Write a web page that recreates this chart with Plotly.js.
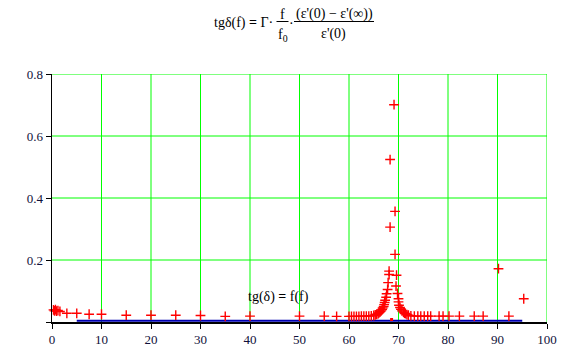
<!DOCTYPE html>
<html><head><meta charset="utf-8">
<script src="https://cdn.plot.ly/plotly-3.0.1.min.js"></script>
<style>html,body{margin:0;padding:0;background:#fff;}#chart{width:579px;height:349px;}</style>
</head><body><div id="chart"></div>
<script>
// Frequency values f and loss tangent tg(delta)
const freq = [0.3, 0.5, 0.7, 0.9, 1.2, 1.6, 3.0, 5.0, 7.5, 10, 15, 20, 25, 30, 35, 40, 50, 55, 57.5,
  60, 60.5, 61, 61.5, 62, 62.5, 63, 63.5, 64, 64.5, 65, 65.3, 65.6, 65.9, 66.1, 66.3, 66.5, 66.7, 66.8,
  67.0, 67.1, 67.2, 67.3, 67.5, 67.6, 67.8, 67.9, 68.1, 68.1, 68.3, 68.3, 69.1, 69.3, 69.3, 69.6, 69.5,
  69.8, 70.0, 70.0, 70.1, 70.3, 70.5, 70.7, 71.0, 71.2, 71.4, 71.7, 72.0, 72.5, 73.2, 73.9, 74.5, 75.2,
  75.9, 76.5, 78.2, 79.0, 80.2, 82.3, 85.3, 87.1, 90.2, 92.3, 95.3];
const tgd = [0.039, 0.036, 0.040, 0.035, 0.037, 0.034, 0.028, 0.028, 0.025, 0.025, 0.022, 0.022, 0.022, 0.021, 0.018, 0.019, 0.019, 0.019, 0.018,
  0.018, 0.018, 0.018, 0.018, 0.018, 0.019, 0.019, 0.019, 0.019, 0.020, 0.021, 0.023, 0.025, 0.027, 0.030, 0.033, 0.036, 0.040, 0.045,
  0.050, 0.056, 0.063, 0.070, 0.080, 0.091, 0.105, 0.127, 0.153, 0.164, 0.306, 0.524, 0.701, 0.357, 0.218, 0.151, 0.116,
  0.092, 0.075, 0.065, 0.054, 0.047, 0.041, 0.036, 0.032, 0.029, 0.027, 0.024, 0.022, 0.020, 0.019, 0.019, 0.019, 0.019,
  0.019, 0.019, 0.019, 0.019, 0.019, 0.019, 0.019, 0.019, 0.172, 0.019, 0.075];
// second trace: flat line along the f axis
const lineF = [5, 95];
const lineY = [0.004, 0.004];
const markF = [68.6];
const markY = [0.008];

const xTicks = [0, 10, 20, 30, 40, 50, 60, 70, 80, 90, 100];
const yTicks = [0, 0.2, 0.4, 0.6, 0.8];
const yTickText = [' ', '0.2', '0.4', '0.6', '0.8'];

const serif = 'Liberation Serif';
const ink = '#10103a';
const green = '#00ff00';

// pixel helpers for placing the formula (plot area: x 52..547, y 74..322)
const L = 52, R = 547, T = 74, B = 322;
const px = v => (v - L) / (R - L);
const py = v => (B - v) / (B - T);

const traces = [
  {x: lineF, y: lineY, mode: 'lines', line: {color: '#0000b0', width: 2}, hoverinfo: 'skip', cliponaxis: false},
  {x: freq, y: tgd, mode: 'markers', marker: {symbol: 'cross-thin-open', size: 7, color: 'red', line: {color: 'red', width: 1.4}}, cliponaxis: false},
  {x: markF, y: markY, mode: 'markers', marker: {symbol: 'square', size: 3, color: 'red'}}
];

// grid lines drawn as shapes at the tick positions
const gridShapes = [];
xTicks.filter(v => v > 0).forEach(v => gridShapes.push({type: 'line', layer: 'below', xref: 'x', yref: 'paper', x0: v, x1: v, y0: 0, y1: 1, line: {color: green, width: 1}}));
yTicks.filter(v => v > 0).forEach(v => gridShapes.push({type: 'line', layer: 'below', xref: 'paper', yref: 'y', x0: 0, x1: 1, y0: v, y1: v, line: {color: green, width: 1}}));

const tf = {family: serif, size: 14, color: '#000'};
const layout = {
  width: 579, height: 349,
  margin: {l: L, r: 579 - R, t: T, b: 349 - B},
  paper_bgcolor: '#fff', plot_bgcolor: '#fff',
  showlegend: false,
  font: {family: serif},
  xaxis: {range: [0, 100], tickvals: xTicks, ticks: 'outside', ticklen: 5, tickcolor: '#000',
    showline: true, linecolor: '#000', linewidth: 1.5, showgrid: false,
    zeroline: false, tickfont: {family: serif, size: 13, color: ink}},
  yaxis: {range: [0, 0.8], tickvals: yTicks, ticktext: yTickText, ticks: 'outside', ticklen: 5, tickcolor: '#000',
    showline: true, linecolor: '#000', linewidth: 1.5, showgrid: false,
    zeroline: false, tickfont: {family: serif, size: 13, color: ink}},
  annotations: [
    {xref: 'x', yref: 'y', x: 45.7, y: 0.08, text: 'tg(δ) <b>=</b> f(f)', showarrow: false, font: tf},
    {xref: 'paper', yref: 'paper', x: px(275), y: py(23), xanchor: 'right', yanchor: 'middle', text: 'tgδ(f) <b>=</b> Γ·', showarrow: false, font: tf},
    {xref: 'paper', yref: 'paper', x: px(282.5), y: py(14), xanchor: 'center', yanchor: 'middle', text: 'f', showarrow: false, font: tf},
    {xref: 'paper', yref: 'paper', x: px(283), y: py(35), xanchor: 'center', yanchor: 'middle', text: 'f<sub>0</sub>', showarrow: false, font: tf},
    {xref: 'paper', yref: 'paper', x: px(291), y: py(23), xanchor: 'center', yanchor: 'middle', text: '·', showarrow: false, font: tf},
    {xref: 'paper', yref: 'paper', x: px(334), y: py(14), xanchor: 'center', yanchor: 'middle', text: '(ε\'(0) − ε\'(∞))', showarrow: false, font: tf},
    {xref: 'paper', yref: 'paper', x: px(333), y: py(34), xanchor: 'center', yanchor: 'middle', text: 'ε\'(0)', showarrow: false, font: tf}
  ],
  shapes: gridShapes.concat([
    {type: 'line', xref: 'paper', yref: 'paper', x0: px(276.5), x1: px(288.5), y0: py(21.5), y1: py(21.5), line: {color: '#000', width: 1}},
    {type: 'line', xref: 'paper', yref: 'paper', x0: px(294), x1: px(374), y0: py(21.5), y1: py(21.5), line: {color: '#000', width: 1}}
  ])
};
Plotly.newPlot('chart', traces, layout, {displayModeBar: false, staticPlot: true});
</script></body></html>
